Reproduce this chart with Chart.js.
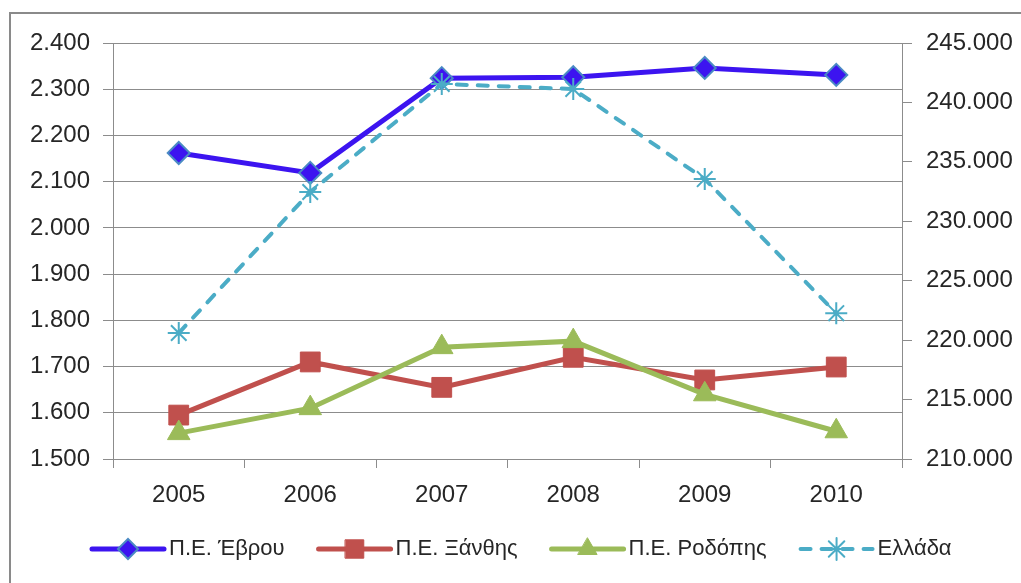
<!DOCTYPE html>
<html lang="el">
<head>
<meta charset="UTF-8">
<title>Π.Ε. Έβρου, Ξάνθης, Ροδόπης - Ελλάδα</title>
<script src="https://cdn.jsdelivr.net/npm/chart.js"></script>
<style>
  html, body { margin: 0; padding: 0; background: #fff; }
</style>
</head>
<body>
<canvas id="chart" width="1021" height="583"></canvas>
<script>
// data
const years = ['2005', '2006', '2007', '2008', '2009', '2010'];
const evros = [2162, 2119, 2324, 2326, 2346, 2331];
const xanthi = [1595, 1710, 1655, 1720, 1671, 1699];
const rodopi = [1556, 1610, 1742, 1755, 1640, 1560];
const ellada = [220600, 232460, 241550, 241130, 233550, 222270];

const leftRange = [1500, 2400, 100];
const rightRange = [210000, 245000, 5000];

const FONT = { family: '"Liberation Sans", Arial, sans-serif', size: 24 };
const LEGEND_FONT = { family: '"Liberation Sans", Arial, sans-serif', size: 22 };
const TEXT = '#262626';
const GRID = '#8c8c8c';

// greek style thousands: 245.000
function fmt(v) {
    return String(v).replace(/\B(?=(\d{3})+(?!\d))/g, '.');
}

// grey outer frame (only top and left edges are visible)
const framePlugin = {
    id: 'frame',
    beforeDraw(chart) {
        const ctx = chart.ctx;
        ctx.save();
        ctx.strokeStyle = '#8a8a8a';
        ctx.lineWidth = 2;
        ctx.strokeRect(10, 13, 1200, 800);
        ctx.restore();
    }
};

// legend with line + marker like the excel one
const legendPlugin = {
    id: 'lineLegend',
    afterDraw(chart) {
        const ctx = chart.ctx;
        const y = 549;
        let x = 92;
        ctx.save();
        ctx.font = LEGEND_FONT.size + 'px ' + LEGEND_FONT.family;
        ctx.textBaseline = 'middle';
        chart.data.datasets.forEach(ds => {
            ctx.strokeStyle = ds.borderColor;
            ctx.lineWidth = ds.borderWidth;
            ctx.lineCap = 'round';
            ctx.setLineDash(ds.borderDash || []);
            ctx.beginPath();
            ctx.moveTo(x, y);
            ctx.lineTo(x + 72, y);
            ctx.stroke();
            ctx.setLineDash([]);
            ctx.fillStyle = ds.pointBackgroundColor;
            ctx.strokeStyle = ds.pointBorderColor;
            ctx.lineWidth = ds.pointBorderWidth;
            Chart.helpers.drawPoint(ctx, {
                pointStyle: ds.pointStyle,
                radius: ds.legendRadius,
                rotation: 0,
                borderWidth: ds.pointBorderWidth
            }, x + 36, y);
            ctx.fillStyle = TEXT;
            ctx.fillText(ds.label, x + 77, y);
            x += 77 + ctx.measureText(ds.label).width + 34;
        });
        ctx.restore();
    }
};

const ctx = document.getElementById('chart').getContext('2d');
new Chart(ctx, {
    type: 'line',
    data: {
        labels: years,
        datasets: [
            {
                label: 'Π.Ε. Έβρου',
                data: evros,
                yAxisID: 'y',
                borderColor: '#3c14f0',
                borderWidth: 5,
                pointStyle: 'rectRot',
                pointRadius: 11,
                legendRadius: 10,
                pointBackgroundColor: '#3c14f0',
                pointBorderColor: '#4a8ac4',
                pointBorderWidth: 2,
                order: 1
            },
            {
                label: 'Π.Ε. Ξάνθης',
                data: xanthi,
                yAxisID: 'y',
                borderColor: '#c0504d',
                borderWidth: 5,
                pointStyle: 'rect',
                pointRadius: 14,
                legendRadius: 13,
                pointBackgroundColor: '#c0504d',
                pointBorderColor: '#c0504d',
                pointBorderWidth: 1,
                order: 3
            },
            {
                label: 'Π.Ε. Ροδόπης',
                data: rodopi,
                yAxisID: 'y',
                borderColor: '#9bbb59',
                borderWidth: 5,
                pointStyle: 'triangle',
                pointRadius: 13,
                legendRadius: 11,
                pointBackgroundColor: '#9bbb59',
                pointBorderColor: '#9bbb59',
                pointBorderWidth: 1,
                order: 2
            },
            {
                label: 'Ελλάδα',
                data: ellada,
                yAxisID: 'y1',
                borderColor: '#4bacc6',
                borderWidth: 4,
                borderDash: [10, 11],
                borderCapStyle: 'round',
                pointStyle: 'star',
                pointRadius: 11,
                legendRadius: 11,
                pointBackgroundColor: '#4bacc6',
                pointBorderColor: '#4bacc6',
                pointBorderWidth: 2,
                order: 0
            }
        ]
    },
    options: {
        responsive: false,
        animation: false,
        layout: { padding: { top: 43, left: 0, right: 0, bottom: 0 } },
        elements: { line: { tension: 0 } },
        plugins: {
            legend: { display: false },
            tooltip: { enabled: false }
        },
        scales: {
            x: {
                offset: true,
                grid: { offset: true, drawOnChartArea: false, drawTicks: true, tickLength: 9, color: GRID },
                border: { color: GRID, width: 1 },
                ticks: { font: FONT, color: TEXT, padding: 13, maxRotation: 0 },
                afterFit: s => { s.height = 124; }
            },
            y: {
                position: 'left',
                min: leftRange[0],
                max: leftRange[1],
                grid: { color: GRID, lineWidth: 1, tickLength: 10 },
                border: { color: GRID, width: 1 },
                ticks: { stepSize: leftRange[2], font: FONT, color: TEXT, padding: 13, callback: v => fmt(v) },
                afterFit: s => { s.width = 113; }
            },
            y1: {
                position: 'right',
                min: rightRange[0],
                max: rightRange[1],
                grid: { drawOnChartArea: false, color: GRID, tickLength: 10 },
                border: { color: GRID, width: 1 },
                ticks: { stepSize: rightRange[2], font: FONT, color: TEXT, padding: 14, callback: v => fmt(v) },
                afterFit: s => { s.width = 119; }
            }
        }
    },
    plugins: [framePlugin, legendPlugin]
});
</script>
</body>
</html>
